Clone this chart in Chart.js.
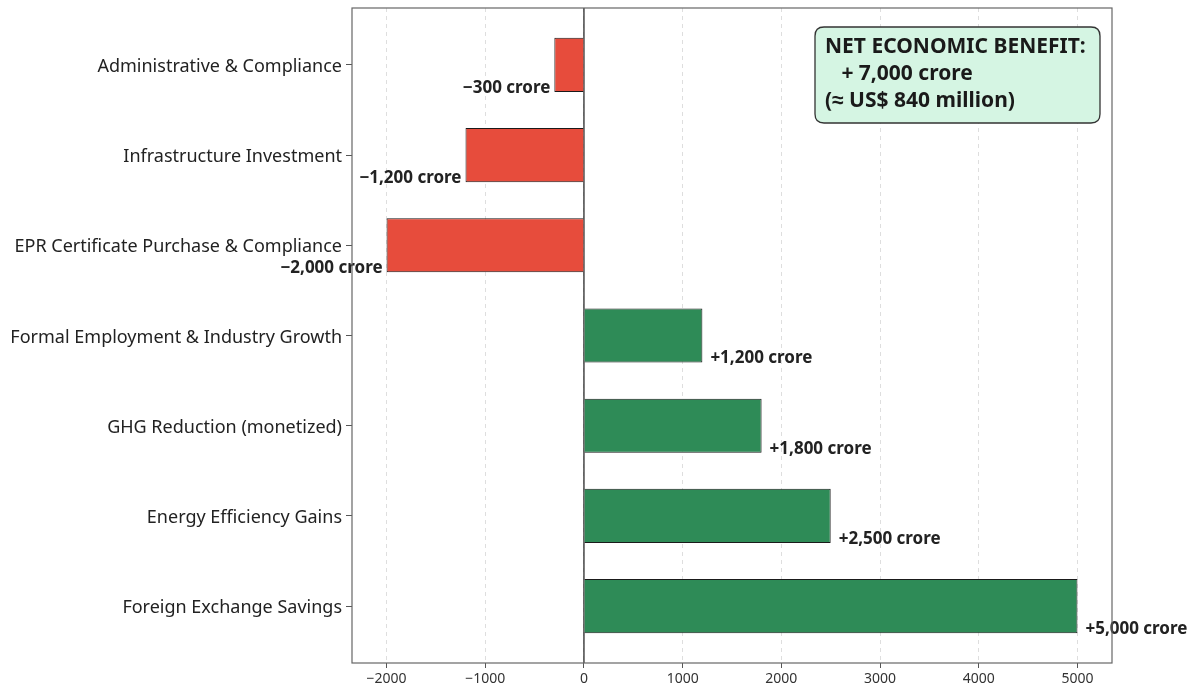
<!DOCTYPE html>
<html>
<head>
<meta charset="utf-8">
<script src="https://cdn.jsdelivr.net/npm/chart.js@4/dist/chart.umd.min.js"></script>
<style>
html,body{margin:0;padding:0;background:#fff;}
#wrap{width:1193px;height:693px;position:relative;}
</style>
</head>
<body>
<div id="wrap"><canvas id="c" width="1193" height="693"></canvas></div>
<script>
const categories = ['Administrative & Compliance','Infrastructure Investment','EPR Certificate Purchase & Compliance','Formal Employment & Industry Growth','GHG Reduction (monetized)','Energy Efficiency Gains','Foreign Exchange Savings'];
const values = [-300,-1200,-2000,1200,1800,2500,5000];
const valueLabels = ['\u2212300 crore','\u22121,200 crore','\u22122,000 crore','+1,200 crore','+1,800 crore','+2,500 crore','+5,000 crore'];
const xTicks = [-2000,-1000,0,1000,2000,3000,4000,5000];
const noteLines = ['NET ECONOMIC BENEFIT:','   + 7,000 crore','(\u2248 US$ 840 million)'];

const FONT = "'Noto Sans', sans-serif";

const overlay = {
  id:'overlay',
  beforeDatasetsDraw(chart){
    const {ctx, chartArea:a, scales:{x}} = chart;
    const x0 = x.getPixelForValue(0);
    ctx.save();
    ctx.strokeStyle='#2b2b2b'; ctx.lineWidth=1.3;
    ctx.beginPath(); ctx.moveTo(x0,a.top); ctx.lineTo(x0,a.bottom); ctx.stroke();
    ctx.restore();
  },
  afterDatasetsDraw(chart){
    const {ctx, chartArea:a, scales:{x,y}} = chart;
    ctx.save();
    ctx.font = "bold 17px " + FONT;
    ctx.fillStyle = '#222';
    ctx.textBaseline='middle';
    values.forEach((v,i)=>{
      const px = x.getPixelForValue(v);
      const py = y.getPixelForValue(i) + 23;
      if (v<0){ ctx.textAlign='right'; ctx.fillText(valueLabels[i], px-4, py); }
      else { ctx.textAlign='left'; ctx.fillText(valueLabels[i], px+8, py); }
    });
    // frame
    ctx.strokeStyle='#666'; ctx.lineWidth=1.2;
    ctx.strokeRect(a.left, a.top, a.right-a.left, a.bottom-a.top);
    // note box
    const bx = a.right-297, by = a.top+19, bw = 285, bh = 96, r = 9;
    ctx.beginPath();
    ctx.moveTo(bx+r,by); ctx.lineTo(bx+bw-r,by); ctx.quadraticCurveTo(bx+bw,by,bx+bw,by+r);
    ctx.lineTo(bx+bw,by+bh-r); ctx.quadraticCurveTo(bx+bw,by+bh,bx+bw-r,by+bh);
    ctx.lineTo(bx+r,by+bh); ctx.quadraticCurveTo(bx,by+bh,bx,by+bh-r);
    ctx.lineTo(bx,by+r); ctx.quadraticCurveTo(bx,by,bx+r,by); ctx.closePath();
    ctx.fillStyle='#d5f5e3'; ctx.fill();
    ctx.strokeStyle='#333'; ctx.lineWidth=1.3; ctx.stroke();
    ctx.fillStyle='#1a1a1a';
    ctx.font = "bold 21px " + FONT;
    ctx.textAlign='left'; ctx.textBaseline='middle';
    noteLines.forEach((t,i)=>ctx.fillText(t, bx+10, by+20+i*27));
    ctx.restore();
  }
};

new Chart(document.getElementById('c'), {
  type:'bar',
  data:{
    datasets:[{
      data: values.map((v,i)=>({x:v,y:i})),
      backgroundColor: values.map(v=> v<0 ? '#e74c3c' : '#2e8b57'),
      borderColor:'#1a1a1a',
      borderWidth:1,
      categoryPercentage:1,
      barPercentage:0.6
    }]
  },
  options:{
    indexAxis:'y',
    responsive:false,
    animation:false,
    layout:{padding:{left:0,right:81,top:8,bottom:0}},
    plugins:{legend:{display:false}, tooltip:{enabled:false}},
    scales:{
      x:{
        type:'linear', min:-2350, max:5350, offset:false,
        afterBuildTicks(s){ s.ticks = xTicks.map(v=>({value:v})); },
        afterFit(s){ s.height = 30; s.paddingLeft = 0; s.paddingRight = 0; },
        grid:{ color:'rgba(0,0,0,0.13)', lineWidth:1, drawTicks:true, tickLength:5, tickColor:'#555', tickBorderDash:[] },
        border:{ display:false, dash:[4,4] },
        ticks:{ color:'#333', font:{family:FONT, size:14}, padding:3, maxRotation:0,
          callback:(v)=> (v<0 ? '\u2212'+Math.abs(v) : String(v)) }
      },
      y:{
        type:'linear', min:-0.63, max:6.63, reverse:true, offset:false,
        afterBuildTicks(s){ s.ticks = categories.map((c,i)=>({value:i})); },
        afterFit(s){ s.width = 352; s.paddingTop = 0; s.paddingBottom = 0; },
        grid:{ drawOnChartArea:false, drawTicks:true, tickLength:6, tickColor:'#555', offset:false },
        border:{ display:false },
        ticks:{ color:'#222', font:{family:FONT, size:18}, padding:4, labelOffset:2,
          callback:(v)=> categories[v] }
      }
    }
  },
  plugins:[overlay]
});
</script>
</body>
</html>
